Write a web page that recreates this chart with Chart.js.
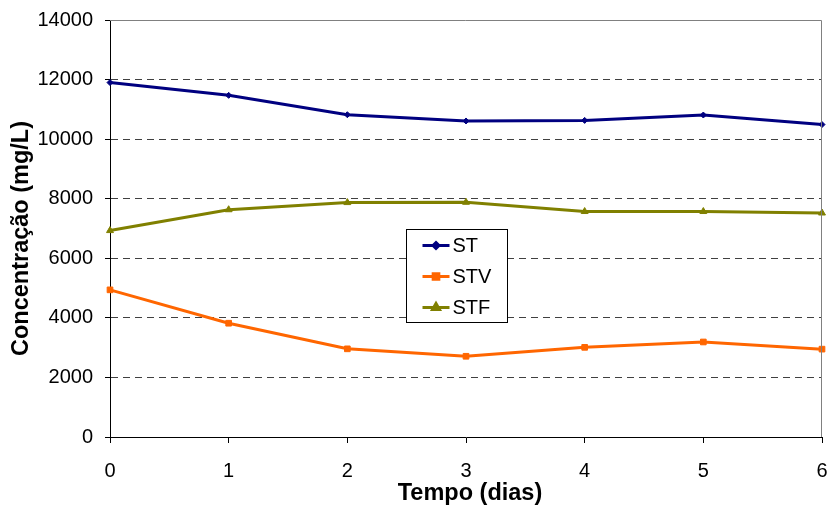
<!DOCTYPE html>
<html lang="pt">
<head>
<meta charset="utf-8">
<title>Concentração de sólidos</title>
<script src="https://cdn.jsdelivr.net/npm/chart.js@4.4.1/dist/chart.umd.min.js"></script>
<style>
  html, body { margin: 0; padding: 0; background: #fff; }
  #wrap { width: 827px; height: 508px; }
</style>
</head>
<body>
<div id="wrap"><canvas id="solidosChart" width="827" height="508"></canvas></div>
<script>
// Dias de amostragem e concentrações (mg/L)
const dias = ['0', '1', '2', '3', '4', '5', '6'];
const st  = [11900, 11470, 10820, 10610, 10630, 10810, 10490];
const stv = [4940, 3820, 2960, 2710, 3010, 3190, 2950];
const stf = [6930, 7630, 7870, 7880, 7570, 7570, 7520];
const yTicks = [0, 2000, 4000, 6000, 8000, 10000, 12000, 14000];

const FONT = '"Liberation Sans", Arial, sans-serif';
const TITLE_FONT = 'bold 23.5px ' + FONT;

// Borda superior e direita da área de plotagem
const plotBorder = {
    id: 'plotBorder',
    afterDatasetsDraw(chart) {
        const { ctx, chartArea: a } = chart;
        ctx.save();
        ctx.strokeStyle = '#808080';
        ctx.lineWidth = 1;
        ctx.beginPath();
        ctx.moveTo(a.left, a.top + 0.5);
        ctx.lineTo(a.right - 0.5, a.top + 0.5);
        ctx.lineTo(a.right - 0.5, a.bottom);
        ctx.stroke();
        ctx.restore();
    }
};

// Títulos dos eixos
const axisTitles = {
    id: 'axisTitles',
    afterDraw(chart) {
        const { ctx, chartArea: a } = chart;
        ctx.save();
        ctx.font = TITLE_FONT;
        ctx.fillStyle = '#000';
        ctx.textAlign = 'center';
        ctx.textBaseline = 'middle';
        ctx.fillText('Tempo (dias)', (a.left + a.right) / 2 + 4, 494);
        ctx.translate(22, (a.top + a.bottom) / 2 + 10);
        ctx.rotate(-Math.PI / 2);
        ctx.fillText('Concentração (mg/L)', 0, 0);
        ctx.restore();
    }
};

// Legenda em caixa dentro da área do gráfico
const boxLegend = {
    id: 'boxLegend',
    afterDraw(chart) {
        const { ctx } = chart;
        const x = 406.5, y = 229.5, w = 101, h = 93;
        ctx.save();
        ctx.fillStyle = '#fff';
        ctx.fillRect(x, y, w, h);
        ctx.strokeStyle = '#000';
        ctx.lineWidth = 1;
        ctx.strokeRect(x, y, w, h);
        ctx.font = '20px ' + FONT;
        ctx.textBaseline = 'middle';
        chart.data.datasets.forEach((ds, i) => {
            const cy = y + 16 + i * 31;
            ctx.strokeStyle = ds.borderColor;
            ctx.lineWidth = 3;
            ctx.beginPath();
            ctx.moveTo(x + 16, cy);
            ctx.lineTo(x + 43, cy);
            ctx.stroke();
            Chart.helpers.drawPoint(ctx, {
                pointStyle: ds.pointStyle,
                radius: ds.pointRadius,
                borderWidth: 1
            }, x + 29.5, cy);
            ctx.fillStyle = ds.borderColor;
            ctx.fill();
            ctx.fillStyle = '#000';
            ctx.fillText(ds.label, x + 46, cy + 1);
        });
        ctx.restore();
    }
};

function serie(label, data, cor, estilo, raio) {
    return {
        label: label,
        data: data,
        borderColor: cor,
        backgroundColor: cor,
        borderWidth: 3,
        pointStyle: estilo,
        pointRadius: raio,
        pointHoverRadius: raio,
        pointBorderWidth: 1,
        tension: 0
    };
}

const ctx = document.getElementById('solidosChart').getContext('2d');
new Chart(ctx, {
    type: 'line',
    data: {
        labels: dias,
        datasets: [
            serie('ST', st, '#000080', 'rectRot', 3),
            serie('STV', stv, '#FF6600', 'rect', 4),
            serie('STF', stf, '#808000', 'triangle', 4)
        ]
    },
    options: {
        responsive: false,
        animation: false,
        layout: { padding: { top: 20, right: 5, left: 0, bottom: 0 } },
        plugins: {
            legend: { display: false },
            tooltip: { enabled: false }
        },
        scales: {
            x: {
                offset: false,
                afterFit: (scale) => {
                    scale.height = 71;
                    scale.paddingLeft = 0;
                    scale.paddingRight = 0;
                },
                grid: {
                    drawOnChartArea: false,
                    tickLength: 6,
                    tickColor: '#000'
                },
                border: { display: true, color: '#000', width: 1 },
                ticks: {
                    color: '#000',
                    padding: 16,
                    maxRotation: 0,
                    font: { family: FONT, size: 20 }
                }
            },
            y: {
                min: 0,
                max: 14000,
                afterFit: (scale) => {
                    scale.width = 110;
                    scale.paddingTop = 0;
                    scale.paddingBottom = 0;
                },
                afterBuildTicks: (scale) => {
                    scale.ticks = yTicks.map(v => ({ value: v }));
                },
                grid: {
                    color: (c) => (c.tick && (c.tick.value === 0 || c.tick.value === 14000)) ? 'rgba(0,0,0,0)' : '#404040',
                    tickLength: 5,
                    tickColor: '#000',
                    tickBorderDash: []
                },
                border: { display: true, color: '#000', width: 1, dash: [7, 5] },
                ticks: {
                    color: '#000',
                    padding: 12,
                    font: { family: FONT, size: 20 },
                    callback: (v) => String(v)
                }
            }
        }
    },
    plugins: [plotBorder, axisTitles, boxLegend]
});
</script>
</body>
</html>
